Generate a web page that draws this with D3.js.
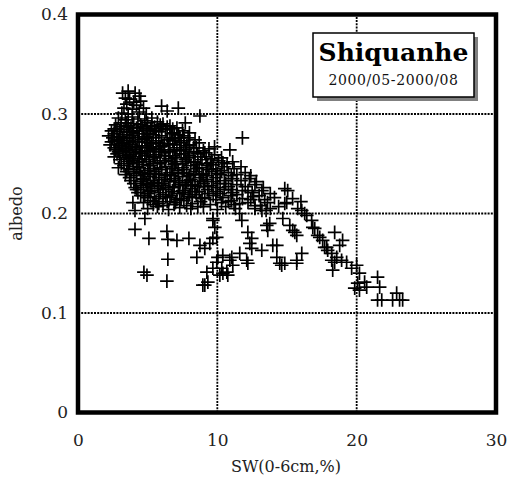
<!DOCTYPE html>
<html><head><meta charset="utf-8">
<script src="https://cdn.jsdelivr.net/npm/d3@7/dist/d3.min.js"></script>
<style>body{margin:0;background:#fff}svg{display:block}</style></head>
<body><svg id="c" width="507" height="480"></svg>
<script>
const xTicks = [0, 10, 20, 30];
const yTicks = [0, 0.1, 0.2, 0.3, 0.4];
const yTickLabels = ["0", "0.1", "0.2", "0.3", "0.4"];
const xGrid = [10, 20];
const yGrid = [0.1, 0.2, 0.3];
const xTitle = "SW(0-6cm,%)";
const yTitle = "albedo";
const stationName = "Shiquanhe";
const period = "2000/05-2000/08";

// [SW (%), albedo]
const bumpPoints = [[3.2,0.321],[3.6,0.323],[4.1,0.321],[4.4,0.318],[3.4,0.316],[3.7,0.315],[4.0,0.312],[4.5,0.313],[3.5,0.310],[4.2,0.309],[4.7,0.306],[3.3,0.306],[3.9,0.305],[4.4,0.302],[3.15,0.301],[3.6,0.300],[4.9,0.300]];
const upperPoints = [[6.0,0.308],[6.4,0.303],[7.2,0.306],[7.7,0.291],[8.75,0.298],[6.8,0.285],[8.0,0.281],[11.8,0.276],[10.9,0.264],[9.8,0.267]];
const corePoints = [
[2.9,0.296],[3.4,0.294],[3.9,0.297],[4.3,0.295],[4.8,0.293],[5.3,0.296],[5.7,0.292],
[2.7,0.289],[3.1,0.291],[3.6,0.288],[4.0,0.290],[4.5,0.289],[5.0,0.291],[5.5,0.287],[6.1,0.290],[6.6,0.288],[7.1,0.286],
[2.4,0.283],[2.8,0.285],[3.3,0.284],[3.7,0.282],[4.2,0.286],[4.7,0.283],[5.2,0.285],[5.8,0.282],[6.3,0.284],[6.9,0.281],[7.5,0.283],
[2.2,0.278],[2.6,0.280],[3.0,0.277],[3.5,0.279],[3.9,0.278],[4.4,0.280],[4.9,0.277],[5.4,0.279],[6.0,0.278],[6.6,0.276],[7.2,0.279],[7.9,0.276],[8.4,0.274],
[2.4,0.272],[2.9,0.274],[3.3,0.271],[3.7,0.273],[4.1,0.272],[4.6,0.274],[5.1,0.271],[5.6,0.273],[6.2,0.270],[6.8,0.273],[7.4,0.271],[8.0,0.269],[8.7,0.271],
[2.6,0.266],[3.0,0.268],[3.5,0.265],[3.9,0.267],[4.4,0.266],[4.9,0.268],[5.4,0.265],[5.9,0.267],[6.5,0.264],[7.1,0.266],[7.7,0.264],[8.3,0.266],[9.0,0.263],[9.4,0.265],
[2.8,0.260],[3.2,0.262],[3.7,0.259],[4.1,0.261],[4.6,0.260],[5.1,0.262],[5.6,0.259],[6.2,0.261],[6.8,0.258],[7.4,0.260],[8.0,0.258],[8.6,0.260],[9.2,0.257],[9.8,0.259],[10.3,0.256],
[3.0,0.254],[3.5,0.256],[3.9,0.253],[4.4,0.255],[4.9,0.254],[5.4,0.256],[5.9,0.253],[6.5,0.255],[7.1,0.252],[7.7,0.254],[8.3,0.252],[8.9,0.254],[9.5,0.251],[10.1,0.253],[10.7,0.250],[11.1,0.252],
[3.3,0.248],[3.7,0.250],[4.2,0.247],[4.7,0.249],[5.2,0.248],[5.7,0.250],[6.3,0.247],[6.9,0.249],[7.5,0.246],[8.1,0.248],[8.7,0.246],[9.3,0.248],[9.9,0.245],[10.5,0.247],[11.2,0.245],[11.7,0.247],
[3.5,0.242],[4.0,0.244],[4.5,0.241],[5.0,0.243],[5.5,0.242],[6.0,0.244],[6.6,0.241],[7.2,0.243],[7.8,0.240],[8.4,0.242],[9.0,0.240],[9.6,0.242],[10.2,0.239],[10.8,0.241],[11.4,0.239],[12.0,0.241],[12.4,0.238],
[3.7,0.236],[4.2,0.238],[4.7,0.235],[5.2,0.237],[5.8,0.236],[6.3,0.238],[6.9,0.235],[7.5,0.237],[8.1,0.234],[8.7,0.236],[9.3,0.234],[9.9,0.236],[10.5,0.233],[11.1,0.235],[11.7,0.233],[12.3,0.235],[12.8,0.232],
[4.0,0.230],[4.5,0.232],[5.0,0.229],[5.5,0.231],[6.0,0.230],[6.6,0.232],[7.2,0.229],[7.8,0.231],[8.4,0.228],[9.0,0.230],[9.6,0.228],[10.2,0.230],[10.8,0.227],[11.4,0.229],[12.0,0.227],[12.7,0.229],[13.3,0.226],
[4.2,0.224],[4.7,0.226],[5.2,0.223],[5.8,0.225],[6.3,0.224],[6.9,0.226],[7.5,0.223],[8.1,0.225],[8.7,0.222],[9.3,0.224],[9.9,0.222],[10.5,0.224],[11.1,0.221],[11.8,0.223],[12.5,0.221],[13.2,0.223],[13.8,0.220],
[4.5,0.218],[5.0,0.220],[5.5,0.217],[6.1,0.219],[6.7,0.218],[7.3,0.220],[7.9,0.217],[8.5,0.219],[9.1,0.216],[9.7,0.218],[10.4,0.216],[11.0,0.218],[11.8,0.215],[12.6,0.217],[13.4,0.214],[14.1,0.216],
[4.7,0.211],[5.2,0.213],[5.8,0.210],[6.4,0.212],[7.0,0.211],[7.6,0.213],[8.2,0.210],[8.8,0.212],[9.5,0.209],[10.3,0.211],[11.2,0.209],[12.2,0.211],[13.1,0.208],
[5.0,0.205],[5.7,0.207],[6.5,0.204],[7.3,0.206],[8.1,0.205],[9.0,0.207],[10.0,0.204],[12.7,0.205],[13.5,0.203],
[3.1,0.287],[3.8,0.286],[4.6,0.287],[5.3,0.288],[6.0,0.285],[2.5,0.276],[3.2,0.275],[4.0,0.276],[4.8,0.275],[5.6,0.276],[6.4,0.274],[7.0,0.275],
[2.7,0.264],[3.4,0.263],[4.2,0.264],[5.0,0.263],[5.8,0.264],[6.6,0.262],[7.3,0.263],[8.0,0.262],[3.6,0.252],[4.3,0.251],[5.1,0.252],[5.9,0.251],[6.7,0.252],[7.5,0.250],[8.4,0.251],[9.2,0.250],
[4.0,0.240],[4.8,0.239],[5.6,0.240],[6.4,0.239],[7.2,0.240],[8.0,0.238],[8.9,0.239],[4.5,0.228],[5.3,0.227],[6.1,0.228],[6.9,0.227],[7.7,0.228],[8.6,0.227],[5.0,0.216],[5.8,0.215],[6.6,0.216],[7.4,0.215],[8.2,0.216],
[2.6,0.285],[3.5,0.291],[4.3,0.283],[5.1,0.280],[5.9,0.289],[6.7,0.280],[7.6,0.278],
[2.3,0.269],[3.1,0.270],[3.8,0.269],[4.6,0.268],[5.3,0.270],[6.1,0.268],[6.9,0.269],[7.8,0.268],[8.5,0.266],
[2.6,0.257],[3.3,0.258],[4.0,0.257],[4.8,0.258],[5.5,0.257],[6.3,0.258],[7.0,0.256],[7.9,0.256],[8.8,0.257],[9.6,0.255],
[2.9,0.246],[3.6,0.245],[4.4,0.246],[5.2,0.245],[6.0,0.246],[6.8,0.245],[7.6,0.244],[8.5,0.245],[9.4,0.244],[10.3,0.243],
[3.8,0.233],[4.6,0.234],[5.4,0.233],[6.2,0.234],[7.0,0.233],[7.9,0.233],[8.8,0.232],[9.7,0.232],[10.6,0.230],
[4.3,0.221],[5.1,0.222],[5.9,0.221],[6.8,0.222],[7.6,0.221],[8.4,0.222],[9.4,0.220],[10.2,0.220],[11.4,0.219],
[5.4,0.209],[6.1,0.208],[6.9,0.209],[7.8,0.208],[8.6,0.207],
[10.8,0.212],[11.6,0.210],[12.4,0.214],[13.0,0.218],[13.6,0.211],[14.4,0.207],[11.3,0.205],[10.6,0.207],
[3.0,0.282],[3.9,0.281],[4.9,0.285],[5.6,0.283],[6.4,0.287],[7.3,0.276],
[2.8,0.273],[3.5,0.276],[4.3,0.272],[5.0,0.277],[5.8,0.271],[6.5,0.270],[7.6,0.273],
[2.9,0.262],[3.6,0.267],[4.5,0.262],[5.2,0.266],[6.0,0.262],[6.9,0.264],[7.6,0.260],[8.3,0.262],[9.1,0.261],
[3.1,0.250],[3.8,0.255],[4.6,0.252],[5.4,0.250],[6.2,0.253],[7.0,0.250],[7.8,0.252],[8.6,0.249],[9.7,0.249],[10.4,0.251],
[3.4,0.239],[4.2,0.242],[5.1,0.240],[5.8,0.239],[6.7,0.238],[7.5,0.241],[8.3,0.239],[9.2,0.238],[10.0,0.240],[11.0,0.238],
[4.1,0.226],[4.9,0.230],[5.7,0.228],[6.5,0.226],[7.3,0.231],[8.2,0.229],[9.1,0.227],[10.0,0.226],[11.0,0.224],[12.2,0.223],
[4.8,0.218],[5.6,0.212],[6.3,0.217],[7.1,0.214],[8.0,0.219],[8.9,0.215],[9.9,0.214],[11.0,0.213]
];
const lowerPoints = [
[4.09,0.184],[5.09,0.175],[6.38,0.182],[6.45,0.174],[7.10,0.173],[7.96,0.175],[6.45,0.154],[4.73,0.141],[4.95,0.138],[6.38,0.132],[9.10,0.128],[9.32,0.131],
[3.94,0.211],[4.09,0.203],[4.80,0.195],[8.75,0.168],[9.10,0.165],[9.46,0.170],[9.68,0.175],[9.96,0.176],[8.53,0.156],[10.04,0.156],[10.39,0.158],[11.04,0.156],
[9.68,0.145],[10.32,0.145],[10.68,0.141],[9.25,0.141],[10.18,0.138],[10.75,0.138],[8.96,0.128],[9.96,0.151],[11.11,0.148],[9.68,0.193],[9.82,0.186],[9.68,0.195],[10.9,0.153],[10.4,0.140]
];
const streakPoints = [
[11.6,0.200],[11.76,0.193],[12.19,0.181],[12.47,0.175],[12.33,0.170],[12.47,0.165],[13.19,0.163],[12.11,0.153],[11.61,0.160],[12.19,0.150],
[13.55,0.188],[13.62,0.183],[13.76,0.190],[13.98,0.168],[14.27,0.168],[14.27,0.156],[14.62,0.148],[14.84,0.150],[14.48,0.150],[14.70,0.195],
[15.2,0.188],[15.41,0.183],[15.56,0.181],[15.70,0.178],[15.70,0.153],[16.06,0.160],[15.70,0.150],
[14.84,0.225],[15.05,0.223],[14.84,0.210],[14.98,0.211],[15.4,0.215],[16.0,0.212],[15.77,0.205],[16.06,0.203],[16.27,0.200],[16.42,0.198],[16.77,0.193],[16.85,0.186],[16.99,0.185],
[17.2,0.178],[17.35,0.176],[17.56,0.173],[17.7,0.166],[17.85,0.166],[17.92,0.163],[18.21,0.160],[18.42,0.181],[18.78,0.168],[18.99,0.173],[18.57,0.156],[18.42,0.151],[18.21,0.153],
[18.28,0.143],[18.92,0.153],[19.28,0.151],[19.64,0.145],[20.0,0.148],[20.2,0.140],[20.07,0.130],[20.57,0.131],[20.72,0.126],[21.5,0.136],[21.65,0.126],
[21.5,0.113],[21.8,0.113],[22.58,0.113],[22.87,0.120],[23.08,0.113],[23.3,0.113],[20.2,0.123],[19.86,0.125],[12.7,0.208],[13.2,0.203],[13.8,0.205]
];
const allPoints = bumpPoints.concat(upperPoints, corePoints, lowerPoints, streakPoints);

const svg = d3.select("#c");
const x = d3.scaleLinear().domain([0, 30]).range([78, 496]);
const y = d3.scaleLinear().domain([0, 0.4]).range([412.5, 14.5]);
const serif = "'DejaVu Serif', serif";

// grid
const g = svg.append("g");
g.selectAll(".gx").data(xGrid).join("line")
  .attr("x1", d => x(d)).attr("x2", d => x(d)).attr("y1", y(0)).attr("y2", y(0.4))
  .attr("stroke", "#000").attr("stroke-width", 1.8).attr("stroke-dasharray", "2,1.2");
g.selectAll(".gy").data(yGrid).join("line")
  .attr("x1", x(0)).attr("x2", x(30)).attr("y1", d => y(d)).attr("y2", d => y(d))
  .attr("stroke", "#000").attr("stroke-width", 1.8).attr("stroke-dasharray", "2,1.2");

// points
svg.append("g").selectAll("path").data(allPoints).join("path")
  .attr("transform", d => `translate(${x(d[0])},${y(d[1])})`)
  .attr("d", "M-6.8,0H6.8M0,-6.8V6.8")
  .attr("fill", "none").attr("stroke", "#000").attr("stroke-width", 1.7);

// frame
svg.append("rect").attr("x", x(0)).attr("y", y(0.4))
  .attr("width", x(30) - x(0)).attr("height", y(0) - y(0.4))
  .attr("fill", "none").attr("stroke", "#000").attr("stroke-width", 4.5);

// axes
const ax = svg.append("g").attr("transform", `translate(0,${y(0)})`)
  .call(d3.axisBottom(x).tickValues(xTicks).tickFormat(d3.format("d")).tickSize(0).tickPadding(21));
ax.select(".domain").remove();
ax.selectAll("text").attr("font-family", serif).attr("font-size", 17).attr("fill", "#222");

const ay = svg.append("g").attr("transform", `translate(${x(0)},0)`)
  .call(d3.axisLeft(y).tickValues(yTicks).tickFormat((d, i) => yTickLabels[i]).tickSize(0).tickPadding(10));
ay.select(".domain").remove();
ay.selectAll("text").attr("font-family", serif).attr("font-size", 17).attr("fill", "#222");

svg.append("text").attr("x", (x(0) + x(30)) / 2 - 1).attr("y", 472)
  .attr("text-anchor", "middle").attr("font-family", serif).attr("font-size", 16).attr("fill", "#222")
  .text(xTitle);
svg.append("text").attr("transform", `translate(22,${(y(0) + y(0.4)) / 2}) rotate(-90)`)
  .attr("text-anchor", "middle").attr("font-family", serif).attr("font-size", 16).attr("fill", "#222")
  .text(yTitle);

// legend box
const lg = svg.append("g");
lg.append("rect").attr("x", 317).attr("y", 37).attr("width", 161).attr("height", 64).attr("fill", "#808080");
lg.append("rect").attr("x", 313).attr("y", 33).attr("width", 161).attr("height", 64)
  .attr("fill", "#fff").attr("stroke", "#000").attr("stroke-width", 1.5);
lg.append("text").attr("x", 393.5).attr("y", 61).attr("text-anchor", "middle")
  .attr("font-family", serif).attr("font-weight", "bold").attr("font-size", 25).attr("fill", "#000")
  .text(stationName);
lg.append("text").attr("x", 393.5).attr("y", 85).attr("text-anchor", "middle")
  .attr("font-family", serif).attr("font-size", 14).attr("letter-spacing", 0.6).attr("fill", "#111")
  .text(period);
</script></body></html>
